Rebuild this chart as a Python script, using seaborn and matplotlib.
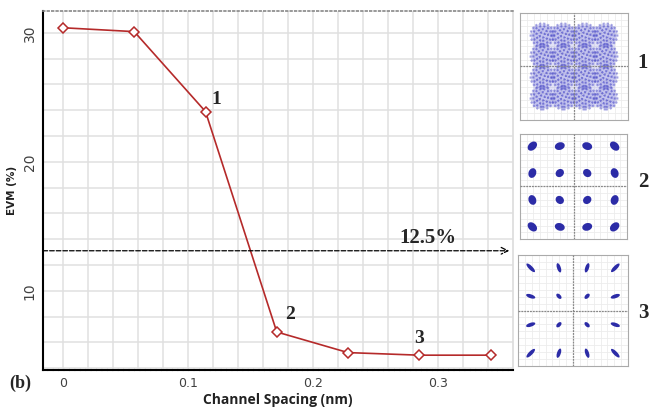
import numpy as np
import pandas as pd
import matplotlib
matplotlib.use("Agg")
import matplotlib.pyplot as plt
from matplotlib.patches import Ellipse, Circle, Rectangle
import seaborn as sns

# ---- data ----
spacing_nm = [0.0, 0.057, 0.114, 0.171, 0.228, 0.285, 0.342]
evm_pct = [30.4, 30.1, 23.9, 6.8, 5.2, 5.0, 5.0]
threshold_y = 13.1
threshold_label = "12.5%"
point_labels = ["1", "2", "3"]
point_label_idx = [2, 3, 5]
x_ticks = [0, 0.1, 0.2, 0.3]
x_ticklabels = ["0", "0.1", "0.2", "0.3"]
y_ticks = [10, 20, 30]
y_ticklabels = ["10", "20", "30"]
qam_levels = [-3, -1, 1, 3]

sns.set_theme(style="white")
plt.rcParams["font.family"] = ["DejaVu Sans"]
SERIF = "Liberation Serif"

fig = plt.figure(figsize=(6.49, 4.11), dpi=100)
ax = fig.add_axes([43/649, 1-370/411, (513-43)/649, (370-11)/411])

df = pd.DataFrame({"x": spacing_nm, "y": evm_pct})
red = "#b52a2a"
sns.lineplot(data=df, x="x", y="y", ax=ax, color=red, lw=1.2,
             marker="D", markersize=5, markerfacecolor="white",
             markeredgecolor=red, markeredgewidth=1.1)

ax.set_xlim(-0.016, 0.36)
ax.set_ylim(3.85, 31.7)
ax.set_xticks(np.arange(0, 0.36, 0.02), minor=True)
ax.set_yticks(np.arange(4, 31.7, 2), minor=True)
ax.set_xticks(x_ticks)
ax.set_xticklabels(x_ticklabels)
ax.set_yticks(y_ticks)
ax.set_yticklabels(y_ticklabels, rotation=90, va="center")
ax.grid(True, which="both", color="#e0e0e0", lw=1.1)
ax.set_axisbelow(True)
ax.tick_params(axis="x", which="major", length=4, width=1.2, color="black",
               labelsize=9, labelcolor="#404040", pad=3, direction="inout")
ax.tick_params(axis="x", which="minor", length=3, width=1.0, color="black",
               direction="inout")
ax.tick_params(axis="y", which="both", length=5, width=1.0, color="black",
               labelsize=10, labelcolor="#404040", direction="inout", pad=2)
for s in ["left", "bottom"]:
    ax.spines[s].set_color("black")
    ax.spines[s].set_linewidth(1.5)
ax.spines["bottom"].set_linestyle((0, (2, 0.6)))
ax.spines["top"].set_color("#888888")
ax.spines["top"].set_linestyle(":")
ax.spines["top"].set_linewidth(1.2)
ax.spines["right"].set_color("#dddddd")

ax.set_xlabel("Channel Spacing (nm)", fontsize=10, fontweight="bold",
              fontfamily="Open Sans", color="#222222", labelpad=2)
ax.set_ylabel("EVM (%)", fontsize=7.5, fontweight="bold", color="#222222",
              labelpad=4)

# threshold arrow
ax.annotate("", xy=(0.357, threshold_y), xytext=(-0.016, threshold_y),
            arrowprops=dict(arrowstyle="->", ls="--", lw=0.9, color="black",
                            shrinkA=0, shrinkB=0))
ax.text(0.3145, threshold_y + 0.2, threshold_label, fontsize=15,
        fontfamily=SERIF, fontweight="bold", ha="right", va="bottom")

offsets = [(0.009, 0.3), (0.011, 0.7), (0.0, 0.6)]
for lab, i, (dx, dy) in zip(point_labels, point_label_idx, offsets):
    ax.text(spacing_nm[i] + dx, evm_pct[i] + dy, lab, fontsize=14,
            fontfamily=SERIF, fontweight="bold", ha="center",
            va="bottom")

fig.text(20/649, 1-383/411, "(b)", fontsize=13, fontfamily=SERIF,
         fontweight="bold", ha="center", va="center")


def style_inset(a, lim=3.9):
    a.set_xlim(-lim, lim)
    a.set_ylim(-lim, lim)
    step = lim / 8
    a.set_xticks(np.arange(-lim + step, lim, step))
    a.set_yticks(np.arange(-lim + step, lim, step))
    a.grid(True, color="#ececec", lw=0.6)
    a.set_axisbelow(True)
    a.tick_params(length=1.5, color="#999999", labelbottom=False,
                  labelleft=False)
    for s in a.spines.values():
        s.set_color("#aaaaaa")
        s.set_linewidth(0.8)
    a.axhline(0, color="#888888", lw=0.9, ls=(0, (1.5, 0.8)), zorder=5)
    a.axvline(0, color="#888888", lw=0.9, ls=(0, (1.5, 0.8)), zorder=5)
    a.set_facecolor("white")


# inset 1: heavy noise
in1 = fig.add_axes([520/649, 1-120/411, 108/649, 107/411])
style_inset(in1, lim=5.1)
in1.add_patch(Rectangle((-3.9, -3.9), 7.8, 7.8, color="#8c8ce0", alpha=0.25,
                        lw=0, zorder=2))
for xi in qam_levels:
    for yi in qam_levels:
        in1.add_patch(Circle((xi, yi), 1.1, color="#6a6ad4", alpha=0.25,
                             lw=0, zorder=3))
        for r, al in zip([0.25, 0.55, 0.85, 1.1], [0.6, 0.6, 0.55, 0.45]):
            in1.add_patch(Circle((xi, yi), r, fill=False, ec="#4040c4",
                                 lw=1.5, ls=(0, (1.0, 1.0)), alpha=al,
                                 zorder=4))

# inset 2: clean clusters
in2 = fig.add_axes([520/649, 1-239/411, 107/649, 105/411])
style_inset(in2)
for xi in qam_levels:
    for yi in qam_levels:
        r = np.hypot(xi, yi)
        ang = np.degrees(np.arctan2(yi, xi)) + 90
        w = 0.58 + 0.05 * r
        in2.add_patch(Ellipse((xi, yi), w, 0.56, angle=ang, color="#1a1aa0",
                              alpha=0.92, lw=0, zorder=4))

# inset 3: elongated clusters
in3 = fig.add_axes([518/649, 1-366/411, 110/649, 111/411])
style_inset(in3)
for xi in qam_levels:
    for yi in qam_levels:
        r = np.hypot(xi, yi)
        ang = np.degrees(np.arctan2(yi, xi))
        length = 0.13 * r + 0.12
        in3.add_patch(Ellipse((xi, yi), length + 0.15, 0.27, angle=ang,
                              color="#1a1aa0", alpha=0.92, lw=0, zorder=4))

for lab, yy in zip(point_labels, [63, 182, 313]):
    fig.text(643/649, 1-yy/411, lab, fontsize=15, fontfamily=SERIF,
             fontweight="bold", ha="center", va="center")

fig.savefig("out.png", dpi=100)
